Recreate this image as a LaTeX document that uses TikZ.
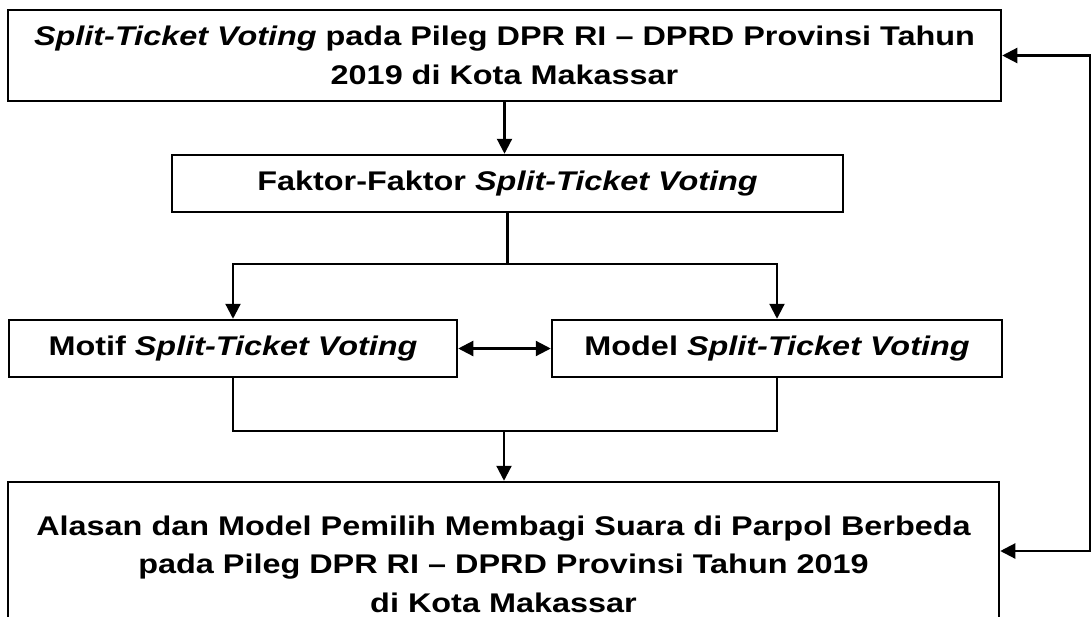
\documentclass[tikz,border=0pt]{standalone}
\usepackage{fontspec}
\setmainfont{Liberation Sans}[FakeStretch=1.2]
\usetikzlibrary{arrows.meta}
\begin{document}
\begin{tikzpicture}[x=1pt,y=-1pt,
  box/.style={draw=black, line width=2.5pt, fill=white, inner sep=0pt, align=center,
    font=\fontsize{27}{38.5}\selectfont\bfseries},
  conn/.style={line width=2.2pt},
  arr/.style={conn, -{Triangle[length=15pt,width=15pt]}},
  dbl/.style={conn, {Triangle[length=15pt,width=15pt]}-{Triangle[length=15pt,width=15pt]}}]
\useasboundingbox (0,0) rectangle (1091,616);
\clip (0,0) rectangle (1091,616);
\node[box, minimum width=993pt, minimum height=91pt] (top) at (504.5,55.5)
  {\textit{Split-Ticket Voting} pada Pileg DPR RI – DPRD Provinsi Tahun\\2019 di Kota Makassar};
\node[box, minimum width=671pt, minimum height=57pt] (faktor) at (507.5,183.5)
  {Faktor-Faktor \textit{Split-Ticket Voting}};
\node[box, minimum width=448pt, minimum height=57pt] (motif) at (233,348.5)
  {Motif \textit{Split-Ticket Voting}};
\node[box, minimum width=450pt, minimum height=57pt] (model) at (777,348.5)
  {Model \textit{Split-Ticket Voting}};
\node[box, minimum width=991pt, minimum height=164pt] (bottom) at (503.5,564)
  {Alasan dan Model Pemilih Membagi Suara di Parpol Berbeda\\pada Pileg DPR RI – DPRD Provinsi Tahun 2019\\di Kota Makassar};
\coordinate (split) at (507.5,264);
\coordinate (merge) at (504,431);
\coordinate (fb) at (1090,300);
\draw[arr] (top.south) -- (top.south |- faktor.north);
\draw[conn] (faktor.south) -- (split);
\draw[arr] (split) -| (motif.north);
\draw[arr] (split) -| (model.north);
\draw[dbl] (motif.east) -- (model.west);
\draw[conn] (motif.south) |- (merge) -| (model.south);
\draw[arr] (merge) -- (merge |- bottom.north);
\draw[dbl] (top.east) -| (fb) |- ([yshift=13pt]bottom.east);
\end{tikzpicture}
\end{document}
